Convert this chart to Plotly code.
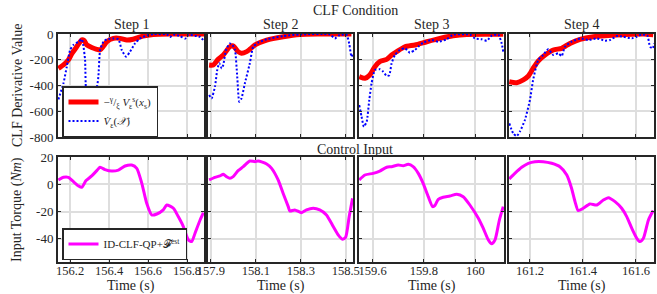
import plotly.graph_objects as go

# ---------------- data ----------------
# CLF condition panels: red = -(gamma/xi) V^s(x_s), blue = dV/dt
t_red_1 = [156.140,156.166,156.191,156.210,156.234,156.260,156.272,156.286,156.311,156.337,156.354,156.371,156.388,156.422,156.456,156.491,156.523,156.574,156.626,156.713,156.887]
v_red_1 = [-267,-240,-202,-150,-99,-45,-50,-85,-105,-119,-124,-95,-60,-34,-34,-47,-41,-16,-4,0,0]
t_blue_1 = [156.140,156.166,156.183,156.200,156.217,156.243,156.260,156.268,156.277,156.282,156.289,156.311,156.337,156.345,156.354,156.371,156.388,156.422,156.448,156.465,156.487,156.508,156.533,156.559,156.593,156.627,156.696,156.713,156.730,156.764,156.790,156.807,156.850,156.867,156.887]
v_blue_1 = [-508,-383,-254,-124,-85,-60,-41,-90,-202,-435,-456,-435,-409,-333,-124,-60,-41,-34,-41,-124,-176,-137,-73,-34,-13,0,-3,-23,-5,-16,-36,-8,-16,-23,-52]

t_red_2 = [157.892,157.910,157.932,157.955,157.984,157.999,158.021,158.036,158.059,158.073,158.096,158.148,158.221,158.296,158.384,158.525]
v_red_2 = [-241,-241,-197,-163,-99,-93,-137,-150,-137,-119,-85,-47,-21,-3,0,0]
t_blue_2 = [157.892,157.903,157.918,157.928,157.937,157.948,157.955,157.967,157.984,157.996,158.007,158.017,158.026,158.036,158.051,158.073,158.088,158.110,158.148,158.221,158.296,158.429,158.451,158.473,158.503,158.515,158.525,158.532]
v_blue_2 = [-474,-500,-409,-280,-227,-267,-240,-124,-73,-85,-124,-331,-526,-500,-383,-228,-99,-67,-41,-16,-3,-3,-34,-8,-5,-73,-176,-150]

t_red_3 = [159.548,159.570,159.589,159.609,159.628,159.655,159.674,159.694,159.726,159.765,159.811,159.862,159.914,159.967,160.109]
v_red_3 = [-331,-344,-318,-254,-215,-197,-163,-137,-99,-85,-60,-34,-13,-3,-2]
t_blue_3 = [159.548,159.557,159.566,159.577,159.587,159.596,159.609,159.628,159.641,159.655,159.665,159.674,159.687,159.706,159.726,159.745,159.765,159.778,159.797,159.830,159.856,159.889,159.914,159.979,159.999,160.025,160.045,160.064,160.090,160.103,160.109]
v_blue_3 = [-552,-642,-720,-680,-513,-383,-280,-274,-292,-326,-320,-228,-163,-124,-111,-145,-124,-99,-67,-47,-60,-41,-5,-5,-34,-41,-52,-13,-5,-73,-137]

t_red_4 = [161.122,161.150,161.175,161.194,161.212,161.231,161.257,161.288,161.320,161.351,161.389,161.439,161.527,161.628,161.665]
v_red_4 = [-370,-378,-357,-326,-267,-210,-163,-124,-111,-73,-41,-21,-8,0,-5]
t_blue_4 = [161.122,161.137,161.150,161.162,161.181,161.200,161.212,161.231,161.250,161.269,161.288,161.307,161.320,161.332,161.357,161.389,161.420,161.452,161.483,161.502,161.527,161.552,161.584,161.603,161.622,161.643,161.653,161.664,161.668]
v_blue_4 = [-694,-772,-793,-759,-668,-513,-357,-202,-163,-119,-163,-150,-171,-99,-60,-34,-47,-34,-52,-47,-16,-21,-34,-21,-3,-13,-99,-111,-73]

# Control input panels (magenta)
t_u_1 = [156.140,156.166,156.191,156.217,156.243,156.260,156.282,156.311,156.337,156.354,156.379,156.414,156.448,156.482,156.516,156.542,156.568,156.593,156.619,156.645,156.678,156.696,156.730,156.755,156.781,156.807,156.824,156.841,156.867,156.884]
u_1 = [3.2,5.1,5.1,1.9,-1.2,-2.2,2.7,6.1,10.0,12.5,10.8,9.7,10.4,13.4,14.1,11.7,0.7,-13.9,-22.5,-21.8,-18.8,-15.2,-17.6,-23.7,-31,-40.8,-42,-35.9,-26.2,-20.8]
t_u_2 = [157.892,157.918,157.940,157.955,157.970,157.984,157.999,158.021,158.044,158.073,158.096,158.110,158.148,158.170,158.199,158.221,158.244,158.251,158.273,158.303,158.325,158.355,158.384,158.414,158.444,158.466,158.485,158.499,158.515,158.530]
u_2 = [3.2,5.1,6.1,7.3,5.5,4.4,5.6,10,12.9,17.1,16.6,17.1,14.9,11.7,3.2,-6.6,-16.4,-19.6,-18.8,-20.8,-18.8,-17.6,-18.8,-22.5,-31,-37.1,-40.3,-39,-23.7,-10.3]
t_u_3 = [159.548,159.570,159.602,159.628,159.655,159.674,159.700,159.719,159.739,159.758,159.778,159.797,159.817,159.834,159.843,159.856,159.875,159.901,159.928,159.953,159.979,160.012,160.031,160.051,160.064,160.077,160.094,160.109]
u_3 = [3.2,6.8,8.0,9.7,12.5,12.9,14.1,13.6,14.6,12.9,8,0.7,-9.1,-16.4,-15.5,-11,-9.5,-8.6,-7.3,-9.1,-15.2,-24.9,-32.2,-40.8,-43.7,-40.8,-26.2,-16.4]
t_u_4 = [161.122,161.143,161.169,161.194,161.219,161.250,161.282,161.313,161.339,161.357,161.370,161.382,161.401,161.426,161.452,161.477,161.496,161.521,161.546,161.565,161.584,161.603,161.615,161.628,161.647,161.665]
u_4 = [3.9,8,12.5,15.4,16.6,16.6,15.4,12.9,6.8,-2.9,-12.7,-19.3,-17.6,-14.4,-15.2,-11.5,-9.8,-12.7,-17.6,-23.7,-32.2,-39.6,-42,-39.6,-26.2,-19.3]

step_titles = ["Step 1", "Step 2", "Step 3", "Step 4"]
x_ranges = [[156.138, 156.887], [157.887, 158.532], [159.547, 160.112], [161.121, 161.668]]
x_tickvals = [[156.2, 156.4, 156.6, 156.8], [157.9, 158.1, 158.3, 158.5], [159.6, 159.8, 160.0], [161.2, 161.4, 161.6]]
x_ticktext = [["156.2", "156.4", "156.6", "156.8"], ["157.9", "158.1", "158.3", "158.5"], ["159.6", "159.8", "160"], ["161.2", "161.4", "161.6"]]
clf_ticks = [0, -200, -400, -600, -800]
clf_ticktext = ["0", "-200", "-400", "-600", "-800"]
u_ticks = [20, 0, -20, -40]
u_ticktext = ["20", "0", "-20", "-40"]

red_t = [t_red_1, t_red_2, t_red_3, t_red_4]
red_v = [v_red_1, v_red_2, v_red_3, v_red_4]
blue_t = [t_blue_1, t_blue_2, t_blue_3, t_blue_4]
blue_v = [v_blue_1, v_blue_2, v_blue_3, v_blue_4]
u_t = [t_u_1, t_u_2, t_u_3, t_u_4]
u_v = [u_1, u_2, u_3, u_4]

# ---------------- figure ----------------
W, H = 657, 294
FONT = "Liberation Serif"
DARK = "#262626"
GRID = "#dedede"

x_px = [(58, 204), (208, 353), (359, 504), (509, 654)]
top_px = (34, 137)
bot_px = (157, 262)

def dx(a, b):
    return [a / W, b / W]

def dy(top, bot):
    return [1 - bot / H, 1 - top / H]

fig = go.Figure()
layout = {}

for i in range(4):
    xt = i + 1
    xb = i + 5
    fig.add_trace(go.Scatter(x=red_t[i], y=red_v[i], mode="lines",
                             line=dict(color="#ff0000", width=5, shape="spline", smoothing=0.6),
                             name="−<sup>γ</sup>/<sub>ξ</sub> <i>V</i><sub>ε</sub><sup>s</sup>(<i>x</i><sub>s</sub>)",
                             showlegend=(i == 0), legend="legend",
                             xaxis=f"x{xt}", yaxis=f"y{xt}"))
    fig.add_trace(go.Scatter(x=blue_t[i], y=blue_v[i], mode="lines",
                             line=dict(color="#0000ff", width=2, dash="2px,2px", shape="spline", smoothing=0.5),
                             name="<i>V̇</i><sub>ε</sub>(<i>𝒳</i>)",
                             showlegend=(i == 0), legend="legend",
                             xaxis=f"x{xt}", yaxis=f"y{xt}"))
    fig.add_trace(go.Scatter(x=u_t[i], y=u_v[i], mode="lines",
                             line=dict(color="#ff00ff", width=3, shape="spline", smoothing=0.6),
                             name="ID-CLF-QP+𝓕<sup>est</sup>",
                             showlegend=(i == 0), legend="legend2",
                             xaxis=f"x{xb}", yaxis=f"y{xb}"))

    common_x = dict(range=x_ranges[i], tickvals=x_tickvals[i], ticktext=x_ticktext[i],
                    showgrid=True, gridcolor=GRID, gridwidth=1.5, zeroline=False,
                    showline=True, linecolor=DARK, linewidth=2, mirror="ticks",
                    ticks="inside", ticklen=3, tickcolor=DARK, automargin=False,
                    ticklabelstandoff=-4,
                    tickfont=dict(family=FONT, size=12.5, color=DARK))
    common_y = dict(showgrid=True, gridcolor=GRID, gridwidth=1.5, zeroline=False,
                    showline=True, linecolor=DARK, linewidth=2, mirror="ticks",
                    ticks="inside", ticklen=3, tickcolor=DARK, automargin=False,
                    tickfont=dict(family=FONT, size=13, color=DARK))
    layout[f"xaxis{xt}"] = dict(common_x, domain=dx(*x_px[i]), anchor=f"y{xt}", showticklabels=False)
    layout[f"yaxis{xt}"] = dict(common_y, domain=dy(*top_px), anchor=f"x{xt}",
                                range=[-800, 0], tickvals=clf_ticks, ticktext=clf_ticktext,
                                showticklabels=(i == 0))
    layout[f"xaxis{xb}"] = dict(common_x, domain=dx(*x_px[i]), anchor=f"y{xb}", showticklabels=True)
    layout[f"yaxis{xb}"] = dict(common_y, domain=dy(*bot_px), anchor=f"x{xb}",
                                range=[-57, 20], tickvals=u_ticks, ticktext=u_ticktext,
                                showticklabels=(i == 0))

annotations = []
def ann(text, x, y, size=14, angle=0):
    annotations.append(dict(text=text, x=x / W, y=1 - y / H, xref="paper", yref="paper",
                            showarrow=False, textangle=angle, xanchor="center", yanchor="middle",
                            font=dict(family=FONT, size=size, color=DARK)))

ann("CLF Condition", 355, 10, 14)
ann("Control Input", 355, 149, 14)
for i in range(4):
    cx = (x_px[i][0] + x_px[i][1]) / 2
    ann(step_titles[i], cx, 25, 14)
    ann("Time (s)", cx, 286, 14)
ann("CLF Derivative Value", 17, 86, 14, -90)
ann("Input Torque (<i>Nm</i>)", 17, 210, 14, -90)

fig.update_layout(
    template="none",
    width=W, height=H, margin=dict(l=0, r=0, t=0, b=0, autoexpand=False),
    paper_bgcolor="white", plot_bgcolor="white",
    font=dict(family=FONT, size=13, color=DARK),
    annotations=annotations,
    legend=dict(x=62 / W, y=1 - 137 / H, xanchor="left", yanchor="bottom",
                bgcolor="white", bordercolor=DARK, borderwidth=1.5,
                font=dict(family=FONT, size=11, color=DARK), tracegroupgap=0,
                itemwidth=30),
    legend2=dict(x=62 / W, y=1 - 260 / H, xanchor="left", yanchor="bottom",
                 bgcolor="white", bordercolor=DARK, borderwidth=1.5,
                 font=dict(family=FONT, size=11, color=DARK), itemwidth=30),
    **layout,
)

fig.write_html("out.html", config={"displayModeBar": False},
               post_script="document.body.style.margin='0px';document.body.style.padding='0px';document.documentElement.style.overflow='hidden';")
